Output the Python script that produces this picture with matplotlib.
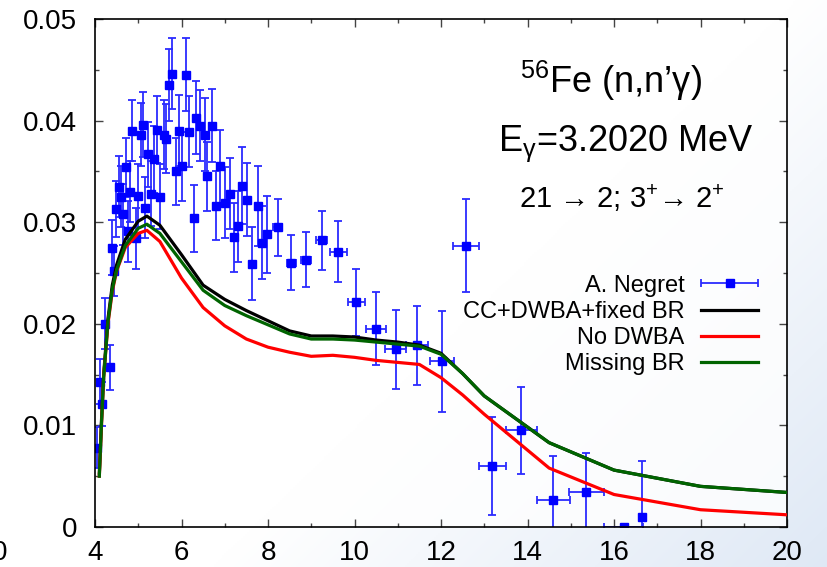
import numpy as np
import matplotlib
matplotlib.use("Agg")
import matplotlib.pyplot as plt
from matplotlib.ticker import MultipleLocator, FixedFormatter, FixedLocator
from matplotlib.container import ErrorbarContainer
from matplotlib.legend_handler import HandlerErrorbar

plt.rcParams['font.family'] = ['Liberation Sans', 'DejaVu Sans']
plt.rcParams['mathtext.fontset'] = 'custom'
plt.rcParams['mathtext.rm'] = 'Liberation Sans'
plt.rcParams['mathtext.it'] = 'Liberation Sans:italic'
plt.rcParams['mathtext.default'] = 'regular'

# Measured gamma production cross section (A. Negret)
energy_exp = [4.05, 4.12, 4.16, 4.22, 4.34, 4.44, 4.40, 4.49, 4.55, 4.59,
              4.65, 4.71, 4.77, 4.81, 4.86, 4.94, 5.00, 5.06, 5.12, 5.16,
              5.23, 5.30, 5.37, 5.44, 5.51, 5.59, 5.65, 5.72, 5.79, 5.87,
              5.95, 6.02, 6.11, 6.18, 6.28, 6.34, 6.43, 6.54, 6.60, 6.71,
              6.80, 6.90, 7.00, 7.11, 7.21, 7.31, 7.41, 7.52, 7.64, 7.76,
              7.86, 7.98, 8.22, 8.54, 8.88, 9.24, 9.63, 10.04, 10.50, 10.95,
              11.45, 12.02, 12.58, 13.19, 13.86, 14.60, 15.36, 16.22, 16.65]
xs_exp = [0.0078, 0.0143, 0.0121, 0.0200, 0.0157, 0.0252, 0.0275, 0.0313, 0.0335, 0.0325,
          0.0308, 0.0354, 0.0291, 0.0330, 0.0390, 0.0284, 0.0326, 0.0386, 0.0396, 0.0314,
          0.0367, 0.0328, 0.0362, 0.0391, 0.0325, 0.0386, 0.0382, 0.0435, 0.0446, 0.0350,
          0.0390, 0.0355, 0.0445, 0.0389, 0.0304, 0.0403, 0.0395, 0.0386, 0.0345, 0.0395,
          0.0316, 0.0355, 0.0319, 0.0328, 0.0285, 0.0296, 0.0336, 0.0322, 0.0259, 0.0316,
          0.0280, 0.0288, 0.0295, 0.0260, 0.0263, 0.0282, 0.0271, 0.0221, 0.0195, 0.0175,
          0.0179, 0.0163, 0.0277, 0.0060, 0.0095, 0.0027, 0.0034, 0.0000, 0.0010]
xs_err = [0.0020, 0.0022, 0.0022, 0.0025, 0.0022, 0.0025, 0.0027, 0.0028, 0.0030, 0.0030,
          0.0030, 0.0029, 0.0030, 0.0030, 0.0030, 0.0030, 0.0031, 0.0031, 0.0032, 0.0030,
          0.0032, 0.0032, 0.0033, 0.0033, 0.0032, 0.0034, 0.0034, 0.0035, 0.0035, 0.0033,
          0.0035, 0.0034, 0.0036, 0.0035, 0.0033, 0.0036, 0.0035, 0.0036, 0.0034, 0.0036,
          0.0034, 0.0036, 0.0035, 0.0035, 0.0034, 0.0035, 0.0038, 0.0036, 0.0036, 0.0039,
          0.0036, 0.0038, 0.0028, 0.0027, 0.0027, 0.0029, 0.0030, 0.0033, 0.0036, 0.0039,
          0.0039, 0.0050, 0.0046, 0.0048, 0.0043, 0.0043, 0.0039, 0.0000, 0.0055]
energy_err = [0.0] * 52 + [0.10, 0.10, 0.12, 0.12, 0.19, 0.20, 0.23, 0.25,
                           0.25, 0.28, 0.30, 0.32, 0.35, 0.38, 0.40, 0.45, 0.0]

# Calculated cross sections
curve_energy = [4.1, 4.15, 4.2, 4.3, 4.4, 4.5, 4.7, 5.0, 5.2, 5.5,
                6.0, 6.5, 7.0, 7.5, 8.0, 8.5, 9.0, 9.5, 10.0, 10.5,
                11.0, 11.5, 12.0, 12.5, 13.0, 14.5, 16.0, 18.0, 20.0]
xs_cc_dwba = [0.0053, 0.0105, 0.0150, 0.0205, 0.0238, 0.0258, 0.0283, 0.0301, 0.0306, 0.0297,
              0.0268, 0.0238, 0.0224, 0.0213, 0.0203, 0.0193, 0.0188, 0.0188, 0.0187, 0.0184,
              0.0182, 0.0179, 0.0171, 0.0151, 0.0129, 0.0083, 0.0056, 0.0040, 0.0034]
xs_no_dwba = [0.0050, 0.0100, 0.0148, 0.0200, 0.0232, 0.0252, 0.0275, 0.0289, 0.0292, 0.0281,
              0.0245, 0.0216, 0.0198, 0.0185, 0.0177, 0.0172, 0.0168, 0.0169, 0.0167, 0.0164,
              0.0162, 0.0160, 0.0147, 0.0130, 0.0111, 0.0058, 0.0032, 0.0017, 0.0012]
xs_missing_br = [0.0050, 0.0102, 0.0147, 0.0202, 0.0234, 0.0253, 0.0277, 0.0294, 0.0298, 0.0289,
                 0.0261, 0.0233, 0.0218, 0.0208, 0.0199, 0.0190, 0.0185, 0.0185, 0.0184, 0.0182,
                 0.0180, 0.0178, 0.0170, 0.0151, 0.0129, 0.0083, 0.0056, 0.0040, 0.0034]

y_ticks = [0, 0.01, 0.02, 0.03, 0.04, 0.05]
y_tick_labels = ['0', '0.01', '0.02', '0.03', '0.04', '0.05']
x_ticks = [4, 6, 8, 10, 12, 14, 16, 18, 20]

W, H = 827, 567
fig = plt.figure(figsize=(W / 100, H / 100), dpi=100)

# slide background: white fading to pale blue toward the lower right
bg = fig.add_axes([0, 0, 1, 1], zorder=-10)
gx, gy = np.meshgrid(np.linspace(0, 1, 400), np.linspace(0, 1, 300))
t = np.clip(gx * 0.85 + gy * 0.6 - 0.82, 0, 1)
c0 = np.array([1.0, 1.0, 1.0])
c1 = np.array([0.80, 0.86, 0.94])
img = c0[None, None, :] * (1 - t[..., None]) + c1[None, None, :] * t[..., None]
bg.imshow(img, extent=[0, 1, 0, 1], aspect='auto', origin='upper')
bg.set_axis_off()

ax = fig.add_axes([95 / W, 40 / H, 692 / W, 508 / H])
ax.set_facecolor((1, 1, 1, 0.8))

eb = ax.errorbar(energy_exp, xs_exp, yerr=xs_err, xerr=energy_err,
                 fmt='s', color='#0000ff', markersize=6, ecolor='#2b2bff',
                 elinewidth=1.3, capsize=2.8, capthick=1.3,
                 label='A. Negret', zorder=2)
l_cc, = ax.plot(curve_energy, xs_cc_dwba, color='black', lw=2.3,
                label='CC+DWBA+fixed BR', zorder=3)
l_no, = ax.plot(curve_energy, xs_no_dwba, color='#ff0000', lw=2.3,
                label='No DWBA', zorder=3)
l_mb, = ax.plot(curve_energy, xs_missing_br, color='#006400', lw=2.3,
                label='Missing BR', zorder=3)

ax.set_xlim(4, 20)
ax.set_ylim(0, 0.05)
ax.xaxis.set_major_locator(FixedLocator(x_ticks))
ax.xaxis.set_minor_locator(MultipleLocator(1))
ax.yaxis.set_major_locator(FixedLocator(y_ticks))
ax.yaxis.set_major_formatter(FixedFormatter(y_tick_labels))
ax.yaxis.set_minor_locator(MultipleLocator(0.005))
ax.tick_params(which='both', direction='in', top=True, right=True,
               color='#444444', width=1.0)
ax.tick_params(which='major', length=5.5)
ax.tick_params(which='minor', length=3)
ax.tick_params(axis='y', which='major', labelsize=20, pad=13)
ax.tick_params(axis='x', which='major', labelsize=20, pad=9)
for s in ax.spines.values():
    s.set_linewidth(1.2)
    s.set_color('black')

ax.text(0.745, 0.855, r"$^{56}$Fe (n,n’$\gamma$)", transform=ax.transAxes,
        fontsize=26, ha='center', va='baseline')
ax.text(0.767, 0.74, r"E$_{\gamma}$=3.2020 MeV", transform=ax.transAxes,
        fontsize=26, ha='center', va='baseline')
ax.text(0.762, 0.628, r"21 → 2; 3$^{+}$→ 2$^{+}$", transform=ax.transAxes,
        fontsize=21, ha='center', va='baseline')

leg = ax.legend([eb, l_cc, l_no, l_mb],
                ['A. Negret', 'CC+DWBA+fixed BR', 'No DWBA', 'Missing BR'],
                loc='upper right', bbox_to_anchor=(0.975, 0.52),
                frameon=False, markerfirst=False, fontsize=17, borderpad=0,
                labelspacing=0.18, handlelength=2.4, handletextpad=0.7,
                handler_map={ErrorbarContainer: HandlerErrorbar(xerr_size=1.2, yerr_size=0)})

fig.text(0.0, 1 - 553 / H, "0", fontsize=20, ha='center', va='center')

fig.savefig("out.png", dpi=100)
